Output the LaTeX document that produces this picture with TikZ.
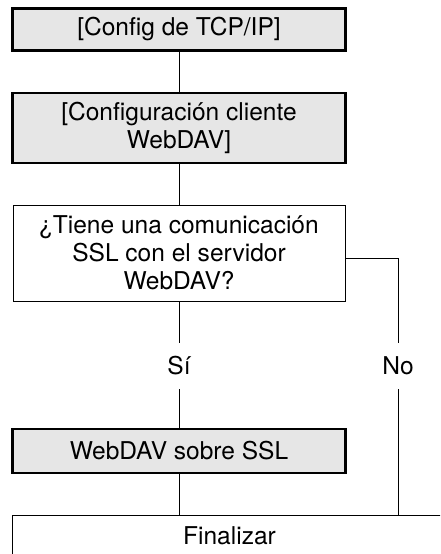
\documentclass[tikz,border=0pt]{standalone}
\usepackage{fontspec}
\setmainfont{TeX Gyre Heros}
\usepackage{xcolor}
\definecolor{stepgray}{RGB}{230,230,230}

\begin{document}
\begin{tikzpicture}[x=0.75pt,y=0.75pt,yscale=-1,xscale=1,
  every node/.style={font=\fontsize{18.4}{21}\selectfont},
  stepbox/.style={draw,line width=2pt,fill=stepgray,minimum width=249.75pt,inner sep=0pt,align=center},
  askbox/.style={draw,line width=0.75pt,minimum width=249pt,minimum height=72pt,inner sep=0pt,align=center},
  endbox/.style={draw,line width=0.75pt,minimum width=325pt,minimum height=31.5pt,inner sep=0pt},
  tag/.style={inner sep=0pt,minimum height=34.5pt}]
\useasboundingbox (0,0) rectangle (440,554);
\clip (0,0) rectangle (440,554);

% Shape: Boxes
\node [stepbox,minimum height=31.5pt] (tcpip) at (179,29.5) {[Config de TCP/IP]};
\node [stepbox,minimum height=52.5pt] (client) at (179,128) {[Configuración cliente\\WebDAV]};
\node [askbox] (ask) at (179,253) {¿Tiene una comunicación\\SSL con el servidor\\WebDAV?};
\node [stepbox,minimum height=33pt] (ssl) at (179,451) {WebDAV sobre SSL};
\node [endbox] (fin) at (229.5,536) {Finalizar};

% Text Node
\node [tag] (yes) at (179,366) {Sí};
\node [tag] (no) at (398,366) {No};

%Straight Lines
\draw [line width=0.75pt] (tcpip) -- (client);
\draw [line width=0.75pt] (client) -- (ask);
\draw [line width=0.75pt] (ask) -- (yes) -- (ssl);
\draw [line width=0.75pt] (ssl) -- (ssl |- fin.north);
\draw [line width=0.75pt] ([yshift=3.75pt]ask.east) -| (no);
\draw [line width=0.75pt] (no) -- (no |- fin.north);

\end{tikzpicture}
\end{document}
